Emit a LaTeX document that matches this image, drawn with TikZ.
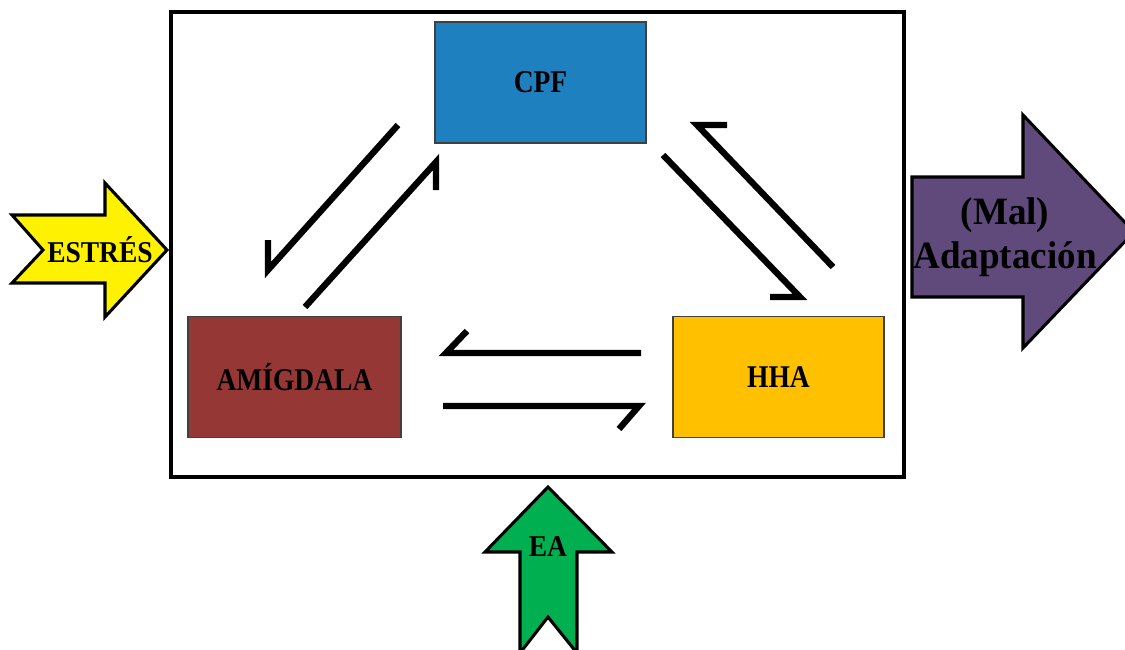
\documentclass[tikz,border=0pt]{standalone}
\usepackage{fontspec}
\setmainfont{Liberation Serif}
% narrow bold faces used for the labels
\newfontfamily\boxfont[FakeStretch=0.87]{Liberation Serif}
\newfontfamily\sidefont[FakeStretch=0.91]{Liberation Serif}
\newfontfamily\outfont[FakeStretch=0.96]{Liberation Serif}
\definecolor{cpfblue}{RGB}{31,128,191}
\definecolor{amigred}{RGB}{149,55,53}
\definecolor{hhagold}{RGB}{255,192,0}
\definecolor{malpurple}{RGB}{96,74,123}
\definecolor{eagreen}{RGB}{0,176,80}
\begin{document}
\begin{tikzpicture}[x=0.03cm,y=-0.03cm,
  lbl/.style={font=\boxfont\fontsize{27}{30}\selectfont\bfseries, text=black},
  sidelbl/.style={font=\sidefont\fontsize{25.8}{28}\selectfont\bfseries, text=black, inner sep=0pt},
  box/.style={draw=black!75, line width=1.2pt, lbl, inner sep=0pt,
              minimum width=6.33cm, minimum height=3.64cm},
  harp/.style={line width=5.4pt, line join=miter, line cap=butt},
  blockarrow/.style={draw=black, line width=2.6pt, line join=miter},
  frame/.style={draw=black, line width=2.6pt},
]
\clip (0,0) rectangle (1125,650);

% outer frame
\draw[frame] (171,12) rectangle (904,477);

% the three regions
\node[box, fill=cpfblue] (cpf) at (540.5,82.5) {CPF};
\node[box, fill=amigred, minimum width=6.39cm] (amig) at (294.5,377) {AMÍGDALA};
\node[box, fill=hhagold] (hha) at (778.5,377) {HHA};

% harpoon end points
\coordinate (cpfA1) at (398,125);
\coordinate (cpfA2) at (268,270);
\coordinate (cpfA3) at (268,240);
\coordinate (amC1) at (305,307);
\coordinate (amC2) at (436,162);
\coordinate (amC3) at (436,190);
\coordinate (cpfH1) at (663,155);
\coordinate (cpfH2) at (800,297);
\coordinate (cpfH3) at (770,297);
\coordinate (hhC1) at (833,267);
\coordinate (hhC2) at (697,125);
\coordinate (hhC3) at (727,125);
\coordinate (hhA1) at (641,353);
\coordinate (hhA2) at (446,353);
\coordinate (hhA3) at (467,331);
\coordinate (amH1) at (443,406);
\coordinate (amH2) at (639,406);
\coordinate (amH3) at (619,429);

% paired harpoons between the regions
\draw[harp] (cpfA1) -- (cpfA2) -- (cpfA3);
\draw[harp] (amC1) -- (amC2) -- (amC3);
\draw[harp] (cpfH1) -- (cpfH2) -- (cpfH3);
\draw[harp] (hhC1) -- (hhC2) -- (hhC3);
\draw[harp] (hhA1) -- (hhA2) -- (hhA3);
\draw[harp] (amH1) -- (amH2) -- (amH3);

% input arrow: stress
\draw[blockarrow, fill=yellow]
  (12,215) -- (105,215) -- (105,183) -- (167,250) -- (105,317)
  -- (105,283) -- (12,283) -- (43,250) -- cycle;
\node[sidelbl] (estres) at (100,250) {ESTRÉS};

% output arrow: (mal)adaptation
\draw[blockarrow, fill=malpurple]
  (912,177) -- (1023,177) -- (1023,115) -- (1134,232) -- (1023,348)
  -- (1023,297) -- (912,297) -- cycle;
\node[font=\outfont\fontsize{33}{37.6}\selectfont\bfseries, align=center, inner sep=0pt]
  (mal) at (1005,237) {(Mal)\\Adaptación};

% bottom arrow: EA
\draw[blockarrow, fill=eagreen]
  (548,487) -- (612,552) -- (577,552) -- (577,653) -- (548,617)
  -- (520,653) -- (520,552) -- (485,552) -- cycle;
\node[sidelbl] (ea) at (548,547) {EA};
\end{tikzpicture}
\end{document}
